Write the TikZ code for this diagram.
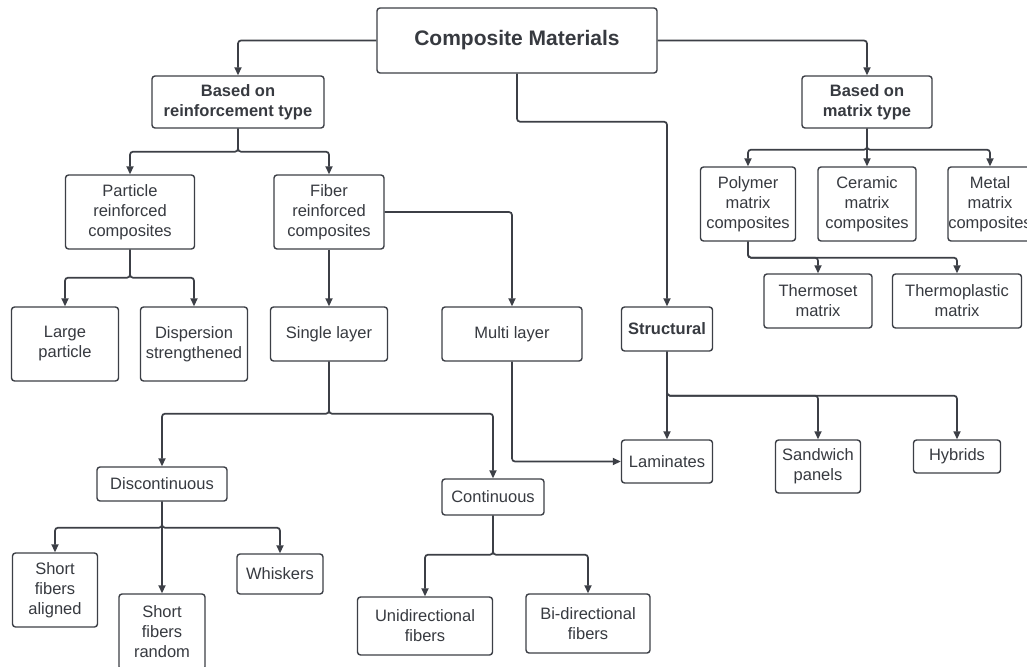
\documentclass[tikz,border=0pt]{standalone}
\usepackage{fontspec}
\setmainfont{Liberation Sans}
\usetikzlibrary{arrows.meta}
\definecolor{ln}{RGB}{60,63,70}
\definecolor{tx}{RGB}{55,58,64}
\begin{document}
\begin{tikzpicture}[x=1pt,y=-1pt,
  box/.style={draw=ln, line width=1.4pt, rounded corners=3pt, inner sep=0pt, align=center, text=tx, font=\fontsize{16.5}{20}\selectfont},
  boldbox/.style={box, font=\bfseries\fontsize{16.5}{20}\selectfont},
  arr/.style={draw=ln, line width=1.7pt, rounded corners=3pt, -{Triangle[length=8pt,width=7pt]}},
  sz/.style 2 args={minimum width=#1pt, minimum height=#2pt}]
\fill[white] (0,0) rectangle (1027,666);
\useasboundingbox (0,0) rectangle (1027,666);

% nodes
\node[boldbox, sz={280}{65}, font=\bfseries\fontsize{21}{25}\selectfont] (cm) at (517,40.5) {Composite Materials};
\node[boldbox, sz={172}{52}] (reinf) at (238,102) {Based on\\reinforcement type};
\node[boldbox, sz={130}{52}] (matrix) at (867,102) {Based on\\matrix type};
\node[box, sz={129}{74}] (particle) at (130,212) {Particle\\reinforced\\composites};
\node[box, sz={110}{74}] (fiber) at (329,212) {Fiber\\reinforced\\composites};
\node[box, sz={107}{74}] (large) at (65,344) {Large\\particle};
\node[box, sz={107}{74}] (disp) at (194,344) {Dispersion\\strengthened};
\node[box, sz={117}{54}] (single) at (329,334) {Single layer};
\node[box, sz={140}{54}] (multi) at (512,334) {Multi layer};
\node[boldbox, sz={91}{44}] (struct) at (667,329) {Structural};
\node[box, sz={95}{74}] (polymer) at (748,204) {Polymer\\matrix\\composites};
\node[box, sz={98}{74}] (ceramic) at (867,204) {Ceramic\\matrix\\composites};
\node[box, sz={84}{74}] (metal) at (990,204) {Metal\\matrix\\composites};
\node[box, sz={108}{54}] (thermoset) at (818,301) {Thermoset\\matrix};
\node[box, sz={129}{54}] (thermoplastic) at (957,301) {Thermoplastic\\matrix};
\node[box, sz={91}{43}] (lam) at (667,461.5) {Laminates};
\node[box, sz={85}{53}] (sand) at (818,466.5) {Sandwich\\panels};
\node[box, sz={87}{33}] (hyb) at (957,456.5) {Hybrids};
\node[box, sz={130}{34}] (discont) at (162,484) {Discontinuous};
\node[box, sz={102}{36}] (cont) at (493,497) {Continuous};
\node[box, sz={85}{74}] (saligned) at (55,590) {Short\\fibers\\aligned};
\node[box, sz={86}{76}] (srandom) at (162,632) {Short\\fibers\\random};
\node[box, sz={86}{40}] (whisk) at (280,574) {Whiskers};
\node[box, sz={135}{58}] (uni) at (425,626) {Unidirectional\\fibers};
\node[box, sz={124}{59}] (bi) at (588,623.5) {Bi-directional\\fibers};

% connectors
\draw[arr] (cm.west) -| (reinf.north);
\draw[arr] (cm.east) -| (matrix.north);
\draw[arr] (cm.south) -- ++(0,48) -| (struct.north);

\draw[arr] (reinf.south) -- ++(0,23) -| (particle.north);
\draw[arr] (reinf.south) -- ++(0,23) -| (fiber.north);

\draw[arr] (matrix.south) -- ++(0,21) -| (polymer.north);
\draw[arr] (matrix.south) -- (ceramic.north);
\draw[arr] (matrix.south) -- ++(0,21) -| (metal.north);

\draw[arr] (polymer.south) -- ++(0,16) -| (thermoset.north);
\draw[arr] (polymer.south) -- ++(0,16) -| (thermoplastic.north);

\draw[arr] (particle.south) -- ++(0,28) -| (large.north);
\draw[arr] (particle.south) -- ++(0,28) -| (disp.north);

\draw[arr] (fiber.south) -- (single.north);
\draw[arr] (fiber.east) -| (multi.north);

\draw[arr] (single.south) -- ++(0,52) -| (discont.north);
\draw[arr] (single.south) -- ++(0,52) -| (cont.north);

\draw[arr] (multi.south) |- (lam.west);

\draw[arr] (struct.south) -- (lam.north);
\draw[arr] (struct.south) -- ++(0,44) -| (sand.north);
\draw[arr] (struct.south) -- ++(0,44) -| (hyb.north);

\draw[arr] (discont.south) -- ++(0,26) -| (saligned.north);
\draw[arr] (discont.south) -- (srandom.north);
\draw[arr] (discont.south) -- ++(0,26) -| (whisk.north);

\draw[arr] (cont.south) -- ++(0,39) -| (uni.north);
\draw[arr] (cont.south) -- ++(0,39) -| (bi.north);
\end{tikzpicture}
\end{document}
